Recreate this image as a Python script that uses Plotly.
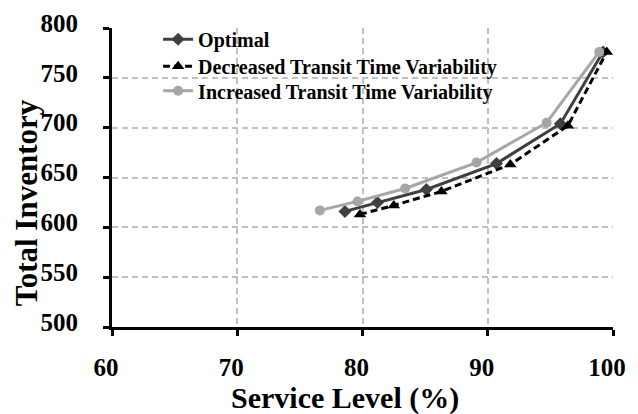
import plotly.graph_objects as go

opt_x = [78.6, 81.2, 85.1, 90.7, 95.8, 99.2]
opt_y = [616, 625, 638, 664, 704, 776]
dec_x = [79.8, 82.5, 86.3, 91.8, 96.4, 99.5]
dec_y = [613, 622, 636, 663, 702, 776]
inc_x = [76.6, 79.6, 83.4, 89.1, 94.7, 98.9]
inc_y = [617, 626, 639, 665, 705, 776]

names = ["Optimal", "Decreased Transit Time Variability", "Increased Transit Time Variability"]
x_ticks = [60, 70, 80, 90, 100]
y_ticks = [500, 550, 600, 650, 700, 750, 800]
x_title = "Service Level (%)"
y_title = "Total Inventory"

FONT = "Liberation Serif, Times New Roman, serif"

fig = go.Figure()
fig.add_trace(go.Scatter(x=opt_x, y=opt_y, name="<b>" + names[0] + "</b>", mode="lines+markers",
                         line=dict(color="#404040", width=3), legend="legend",
                         marker=dict(symbol="diamond", size=10, color="#404040")))
fig.add_trace(go.Scatter(x=dec_x, y=dec_y, name="<b>" + names[1] + "</b>", mode="lines+markers",
                         line=dict(color="#000000", width=3, dash="7px,4px"), legend="legend2",
                         marker=dict(symbol="triangle-up", size=11, color="#000000")))
fig.add_trace(go.Scatter(x=inc_x, y=inc_y, name="<b>" + names[2] + "</b>", mode="lines+markers",
                         line=dict(color="#a6a6a6", width=3), legend="legend3",
                         marker=dict(symbol="circle", size=10, color="#a6a6a6")))

axis_common = dict(
    showline=True, linecolor="black", linewidth=3,
    ticks="outside", ticklen=6, tickwidth=3, tickcolor="black",
    showgrid=True, gridcolor="#c0c0c0", griddash="6px,4px", gridwidth=1.5,
    zeroline=False, automargin=False, ticklabeloverflow="allow",
    tickfont=dict(family=FONT, size=25, color="black", weight="bold"),
)

def leg(y):
    return dict(x=0.092, y=y, xanchor="left", yanchor="middle",
                bgcolor="rgba(0,0,0,0)", borderwidth=0,
                font=dict(family=FONT, size=20, color="black", weight="bold"))

fig.update_layout(
    width=630, height=406,
    margin=dict(l=104, r=25, t=12, b=87),
    paper_bgcolor="white", plot_bgcolor="white",
    font=dict(family=FONT, color="black"),
    showlegend=True,
    legend=leg(0.962),
    legend2=leg(0.872),
    legend3=leg(0.790),
    xaxis=dict(range=[60, 100], tickvals=x_ticks,
               ticktext=["<b>%d</b>" % v for v in x_ticks],
               ticklabelstandoff=10, ticklabelshift=-6,
               **axis_common),
    yaxis=dict(range=[500, 800], tickvals=y_ticks,
               ticktext=["<b>%d</b>" % v for v in y_ticks],
               ticklabelstandoff=20, ticklabelshift=-5,
               **axis_common),
    annotations=[
        dict(text="<b>" + x_title + "</b>", xref="paper", yref="paper",
             x=0.465, y=-0.238, xanchor="center", yanchor="middle", showarrow=False,
             font=dict(family=FONT, size=30, color="black", weight="bold")),
        dict(text="<b>" + y_title + "</b>", xref="paper", yref="paper",
             x=-0.172, y=0.417, xanchor="center", yanchor="middle", showarrow=False,
             textangle=-90,
             font=dict(family=FONT, size=31, color="black", weight="bold")),
    ],
)

fig.write_html("out.html")
